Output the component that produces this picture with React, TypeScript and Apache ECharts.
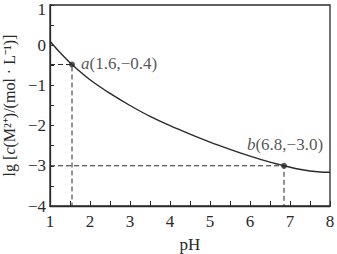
import React, { useEffect, useRef } from "react";
import * as echarts from "echarts";

const phValues = [1.0, 1.25, 1.55, 2.0, 2.5, 3.0, 3.5, 4.0, 4.5, 5.0, 5.5, 6.0, 6.5, 6.85, 7.2, 7.5, 7.75, 8.0];
const lgValues = [0.1, -0.18, -0.48, -0.86, -1.2, -1.5, -1.77, -2.0, -2.21, -2.41, -2.59, -2.76, -2.91, -3.0, -3.08, -3.13, -3.155, -3.16];
const pointA = [1.55, -0.48];
const pointB = [6.85, -3.0];
const labelA = "(1.6,−0.4)";
const labelB = "(6.8,−3.0)";
const xMin = 1, xMax = 8, yMin = -4, yMax = 1;
const yAxisName = "lg [{i|c}(M²⁺)/(mol · L⁻¹)]";
const xAxisName = "pH";

const FONT = "Liberation Serif";
const INK = "#2a2a2a";
const FS = 17;

export default function App() {
  const ref = useRef<HTMLDivElement>(null);
  useEffect(() => {
    if (!ref.current) return;
    const chart = echarts.init(ref.current, undefined, { renderer: "svg" });
    const curve = phValues.map((x, i) => [x, lgValues[i]]);
    const dash = { type: [5, 3] as any, color: INK, width: 1 };
    chart.setOption({
      animation: false,
      backgroundColor: "#fff",
      textStyle: { fontFamily: FONT },
      grid: {
        left: 50, top: 5, right: 7, bottom: 48, containLabel: false, outerBoundsMode: "none",
        show: true, borderColor: INK, borderWidth: 1.3, backgroundColor: "transparent",
      },
      xAxis: {
        type: "value", min: xMin, max: xMax, interval: 1,
        name: xAxisName, nameLocation: "middle", nameGap: 30,
        nameTextStyle: { fontFamily: FONT, fontSize: FS, color: INK },
        axisLine: { show: true, onZero: false, lineStyle: { color: INK, width: 1.3 } },
        axisTick: { show: true, inside: true, length: 5, lineStyle: { color: INK } },
        minorTick: { show: true, splitNumber: 2, length: 5, lineStyle: { color: INK } },
        splitLine: { show: false },
        axisLabel: { fontFamily: FONT, fontSize: FS, color: INK, margin: 7 },
      },
      yAxis: {
        type: "value", min: yMin, max: yMax, interval: 1,
        name: yAxisName, nameLocation: "middle", nameGap: 31, nameRotate: 90,
        nameTextStyle: {
          fontFamily: FONT, fontSize: 16, lineHeight: 16, color: INK,
          rich: { i: { fontFamily: FONT, fontSize: 16, lineHeight: 16, fontStyle: "italic", color: INK } },
        },
        axisLine: { show: true, onZero: false, lineStyle: { color: INK, width: 1.3 } },
        axisTick: { show: true, inside: true, length: 4, lineStyle: { color: INK } },
        minorTick: { show: true, splitNumber: 2, length: 4, lineStyle: { color: INK } },
        splitLine: { show: false },
        axisLabel: {
          fontFamily: FONT, fontSize: FS, color: INK, margin: 4,
          formatter: (v: number) => {
            const s = String(v).replace("-", "−");
            return v === yMax ? "{t|" + s + "}" : s;
          },
          rich: { t: { fontFamily: FONT, fontSize: FS, color: INK, padding: [8, 0, 0, 0] } },
        },
      },
      series: [
        {
          type: "line", data: [[xMin, pointA[1]], pointA, [pointA[0], yMin]],
          symbol: "none", lineStyle: dash, silent: true, z: 1,
        },
        {
          type: "line", data: [[xMin, pointB[1]], pointB, [pointB[0], yMin]],
          symbol: "none", lineStyle: dash, silent: true, z: 1,
        },
        {
          type: "line", data: curve, smooth: 0.3, symbol: "none",
          lineStyle: { color: INK, width: 1.4 }, z: 2,
        },
        {
          type: "scatter", symbolSize: 6, itemStyle: { color: INK }, z: 3,
          data: [
            { value: pointA, label: { show: true, position: "right", distance: 6, offset: [0, -1], formatter: "{i|a}" + labelA } },
            { value: pointB, label: { show: true, position: "top", distance: 10, offset: [1, 0], formatter: "{i|b}" + labelB } },
          ],
          label: {
            fontFamily: FONT, fontSize: FS, color: INK,
            rich: { i: { fontFamily: FONT, fontSize: FS, fontStyle: "italic", color: INK } },
          },
        },
      ],
    });
    return () => chart.dispose();
  }, []);
  return <div ref={ref} style={{ position: "fixed", left: 0, top: 0, width: 337, height: 254 }} />;
}
